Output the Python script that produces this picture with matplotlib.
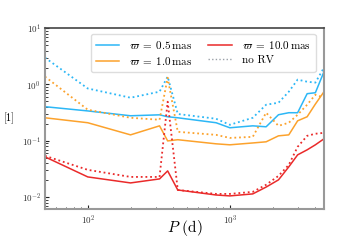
import matplotlib
matplotlib.use("Agg")
import matplotlib.pyplot as plt

periods = [50, 100, 200, 320, 365, 430, 800, 1000, 1450, 1800, 2200, 2600, 3000, 3500, 4000, 4600]

blue_rv = [0.404, 0.34, 0.279, 0.29, 0.268, 0.257, 0.21, 0.171, 0.185, 0.178, 0.291, 0.316, 0.316, 0.687, 0.715, 1.69]
orange_rv = [0.257, 0.21, 0.128, 0.185, 0.100, 0.105, 0.0888, 0.0853, 0.092, 0.0964, 0.123, 0.128, 0.227, 0.268, 0.45, 0.745]
red_rv = [0.0522, 0.023, 0.018, 0.0212, 0.0294, 0.0135, 0.011, 0.0106, 0.0115, 0.0152, 0.0204, 0.0347, 0.0566, 0.0695, 0.0853, 0.109]

blue_norv = [2.99, 0.85, 0.583, 0.745, 1.38, 0.30, 0.247, 0.193, 0.257, 0.438, 0.475, 0.745, 1.22, 1.12, 1.08, 1.99]
orange_norv = [1.38, 0.357, 0.257, 0.237, 1.32, 0.145, 0.128, 0.113, 0.118, 0.316, 0.185, 0.21, 0.291, 0.438, 0.659, 0.583]
red_norv = [0.0544, 0.0307, 0.023, 0.023, 0.495, 0.0135, 0.0115, 0.0115, 0.0125, 0.0167, 0.024, 0.0376, 0.0785, 0.123, 0.134, 0.139]

labels = [r"$\varpi\;=\;0.5\,\mathrm{mas}$", r"$\varpi\;=\;1.0\,\mathrm{mas}$",
          r"$\varpi\;=\;10.0\,\mathrm{mas}$", "no RV"]
colors = ["#2cb7f6", "#fca22c", "#ea2a2a"]

plt.rcParams["mathtext.fontset"] = "cm"
plt.rcParams["font.family"] = "serif"
plt.rcParams["font.serif"] = ["cmr10", "DejaVu Serif"]
plt.rcParams["axes.formatter.use_mathtext"] = True

fig = plt.figure(figsize=(3.6, 2.4), dpi=100)
ax = fig.add_axes([0.125, 0.129, 0.775, 0.754])

lw = 1.1
h = []
for y, c in zip([blue_rv, orange_rv, red_rv], colors):
    h.append(ax.plot(periods, y, color=c, lw=lw)[0])
for y, c in zip([blue_norv, orange_norv, red_norv], colors):
    ax.plot(periods, y, color=c, lw=1.3, ls=(0, (1, 1.6)))
hn, = ax.plot([], [], color="#9aa0a8", lw=1.0, ls=(0, (1, 1.6)))

ax.set_xscale("log")
ax.set_yscale("log")
ax.set_xlim(50, 4600)
ax.set_ylim(0.0062, 10)

for s in ["left", "bottom", "right"]:
    ax.spines[s].set_color("#999999")
    ax.spines[s].set_linewidth(1.5)
ax.spines["top"].set_color("#444444")
ax.spines["top"].set_linewidth(1.2)

ax.tick_params(which="both", direction="in", colors="#222222", labelsize=6.5,
               labelcolor="#333333")
ax.tick_params(which="major", length=3, width=0.8, pad=3)
ax.tick_params(which="minor", length=1.8, width=0.6)

ax.set_xlabel(r"$P$ (d)", fontsize=11, va="center")
ax.xaxis.set_label_coords(0.5, -0.105)
ax.set_ylabel("[1]", fontsize=7.5, rotation=0, labelpad=9, va="center")

leg = ax.legend([h[0], h[1], h[2], hn], labels, ncol=2, loc="upper right",
                fontsize=8, frameon=True, fancybox=True, framealpha=1,
                edgecolor="#dddddd", handlelength=2.1, columnspacing=1.4,
                handletextpad=0.9, borderpad=0.45, labelspacing=0.35,
                bbox_to_anchor=(0.99, 0.997))

fig.savefig("out.png", dpi=100)
